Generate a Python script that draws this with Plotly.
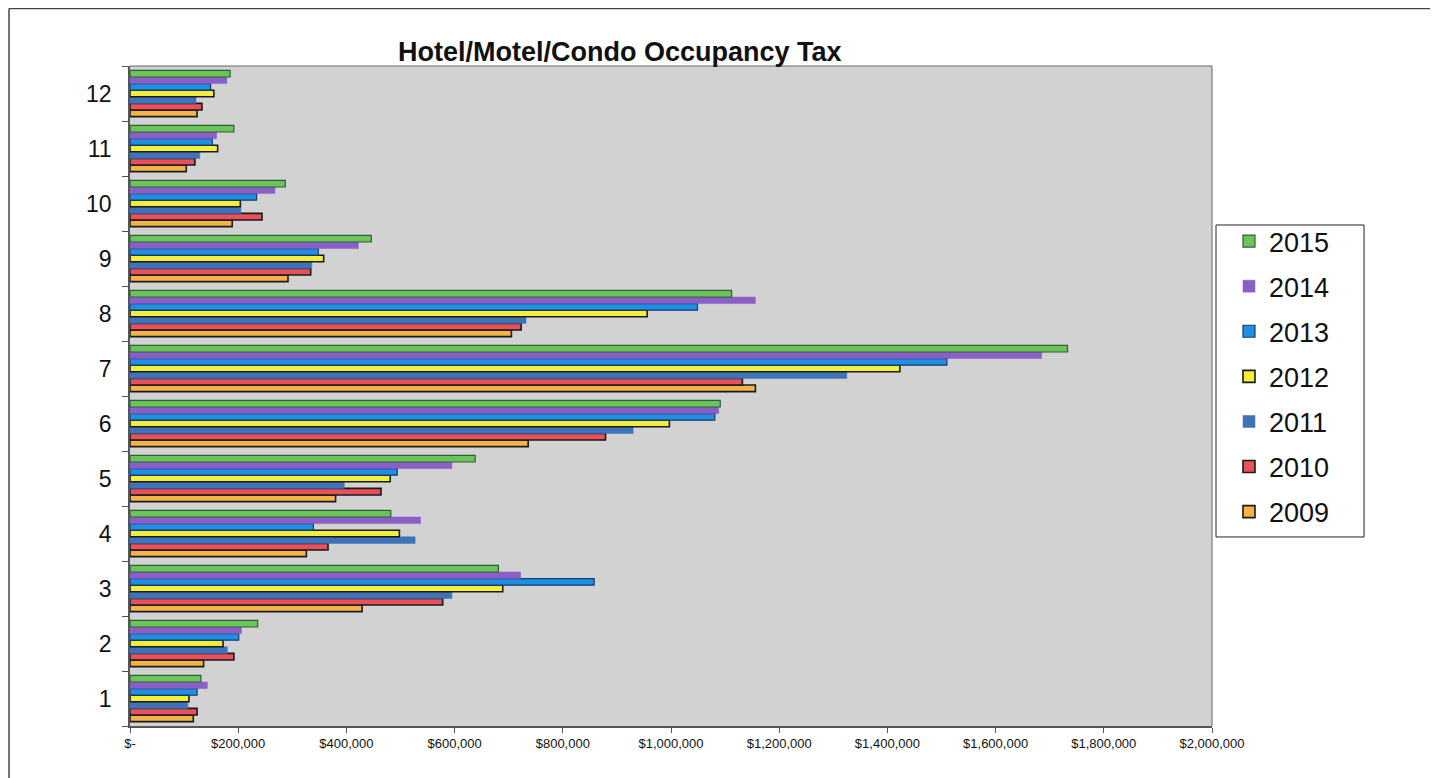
import plotly.graph_objects as go

months = ["1", "2", "3", "4", "5", "6", "7", "8", "9", "10", "11", "12"]
years = ["2009", "2010", "2011", "2012", "2013", "2014", "2015"]

v2009 = [117000, 136000, 429000, 326000, 380000, 736000, 1156000, 705000, 292000, 189000, 104000, 124000]
v2010 = [124000, 192000, 578000, 366000, 464000, 879000, 1132000, 723000, 334000, 244000, 120000, 133000]
v2011 = [107000, 180000, 595000, 527000, 396000, 930000, 1325000, 732000, 336000, 205000, 129000, 122000]
v2012 = [109000, 172000, 689000, 498000, 481000, 997000, 1423000, 956000, 358000, 204000, 162000, 155000]
v2013 = [124000, 201000, 858000, 339000, 494000, 1081000, 1510000, 1049000, 348000, 234000, 152000, 149000]
v2014 = [143000, 206000, 722000, 537000, 595000, 1088000, 1685000, 1156000, 422000, 268000, 160000, 179000]
v2015 = [131000, 236000, 681000, 482000, 638000, 1091000, 1733000, 1112000, 446000, 287000, 192000, 185000]

x_tickvals = [0, 200000, 400000, 600000, 800000, 1000000, 1200000, 1400000, 1600000, 1800000, 2000000]
x_ticktext = ["$-", "$200,000", "$400,000", "$600,000", "$800,000", "$1,000,000",
              "$1,200,000", "$1,400,000", "$1,600,000", "$1,800,000", "$2,000,000"]

series = [v2009, v2010, v2011, v2012, v2013, v2014, v2015]
fills = ["#f4b347", "#e8505c", "#3f73b8", "#f2ee3a", "#1f8fe0", "#8a5fc8", "#6cc35a"]
edges = ["#1a1a1a", "#1a1a1a", "#3f73b8", "#1a1a1a", "#1a3a70", "#8a5fc8", "#2e5e3a"]
edge_w = [1.6, 1.6, 0.5, 1.6, 1.2, 0.5, 1.2]

fig = go.Figure()
n = len(years)
for i, (yr, vals, fc, ec, ew) in enumerate(zip(years, series, fills, edges, edge_w)):
    fig.add_trace(go.Bar(
        y=months, x=vals, name=yr, orientation="h",
        marker=dict(color=fc, line=dict(color=ec, width=ew)),
        legendgroup=yr,
        legendrank=n - i,
    ))

fig.update_layout(
    width=1438, height=778,
    margin=dict(l=122, r=234, t=58, b=60),
    paper_bgcolor="white",
    plot_bgcolor="#d2d2d2",
    barmode="group",
    bargap=0.16,
    bargroupgap=0.0,
    font=dict(family="Liberation Sans, Arial, sans-serif", color="#111111"),
    showlegend=True,
    legend=dict(
        x=1.0157, y=0.7712, xanchor="left", yanchor="top",
        traceorder="grouped", tracegroupgap=7,
        font=dict(size=27, color="#111111"),
        borderwidth=0, bgcolor="rgba(0,0,0,0)",
        itemwidth=30,
    ),
    annotations=[dict(
        text="<b>Hotel/Motel/Condo Occupancy Tax</b>",
        x=0.4529, y=1.0212, xref="paper", yref="paper",
        xanchor="center", yanchor="middle",
        showarrow=False, font=dict(size=27, color="#111111"),
    )],
    shapes=[
        # outer frame
        dict(type="line", xref="paper", yref="paper",
             x0=-0.1118, x1=-0.1118, y0=-0.2, y1=1.087,
             line=dict(color="#444444", width=1.5)),
        dict(type="line", xref="paper", yref="paper",
             x0=-0.1118, x1=1.2061, y0=1.087, y1=1.087,
             line=dict(color="#444444", width=1.5)),
        dict(type="line", xref="paper", yref="paper",
             x0=1.2061, x1=1.2061, y0=-0.2, y1=1.087,
             line=dict(color="#444444", width=1.5)),
        # plot area top/right border
        dict(type="line", xref="paper", yref="paper", x0=1, x1=1, y0=0, y1=1,
             line=dict(color="#666666", width=1)),
        dict(type="line", xref="paper", yref="paper", x0=0, x1=1, y0=1, y1=1,
             line=dict(color="#666666", width=1)),
        # legend box
        dict(type="rect", xref="paper", yref="paper",
             x0=1.0037, x1=1.1405, y0=0.2864, y1=0.7591,
             line=dict(color="#222222", width=1), fillcolor="white", layer="below"),
    ],
)

fig.update_xaxes(
    range=[0, 2000000],
    tickvals=x_tickvals, ticktext=x_ticktext,
    tickfont=dict(size=13, color="#111111"),
    ticks="outside", ticklen=5, tickcolor="#555555",
    showgrid=False, zeroline=False,
    showline=True, linecolor="#555555", linewidth=1.5,
)
fig.update_yaxes(
    type="category", categoryorder="array", categoryarray=months,
    tickson="boundaries",
    tickfont=dict(size=23, color="#111111"),
    ticks="outside", ticklen=6, tickcolor="#555555",
    ticklabelstandoff=12,
    showgrid=False, zeroline=False,
    showline=True, linecolor="#555555", linewidth=1.5,
)

fig.write_html("out.html")
